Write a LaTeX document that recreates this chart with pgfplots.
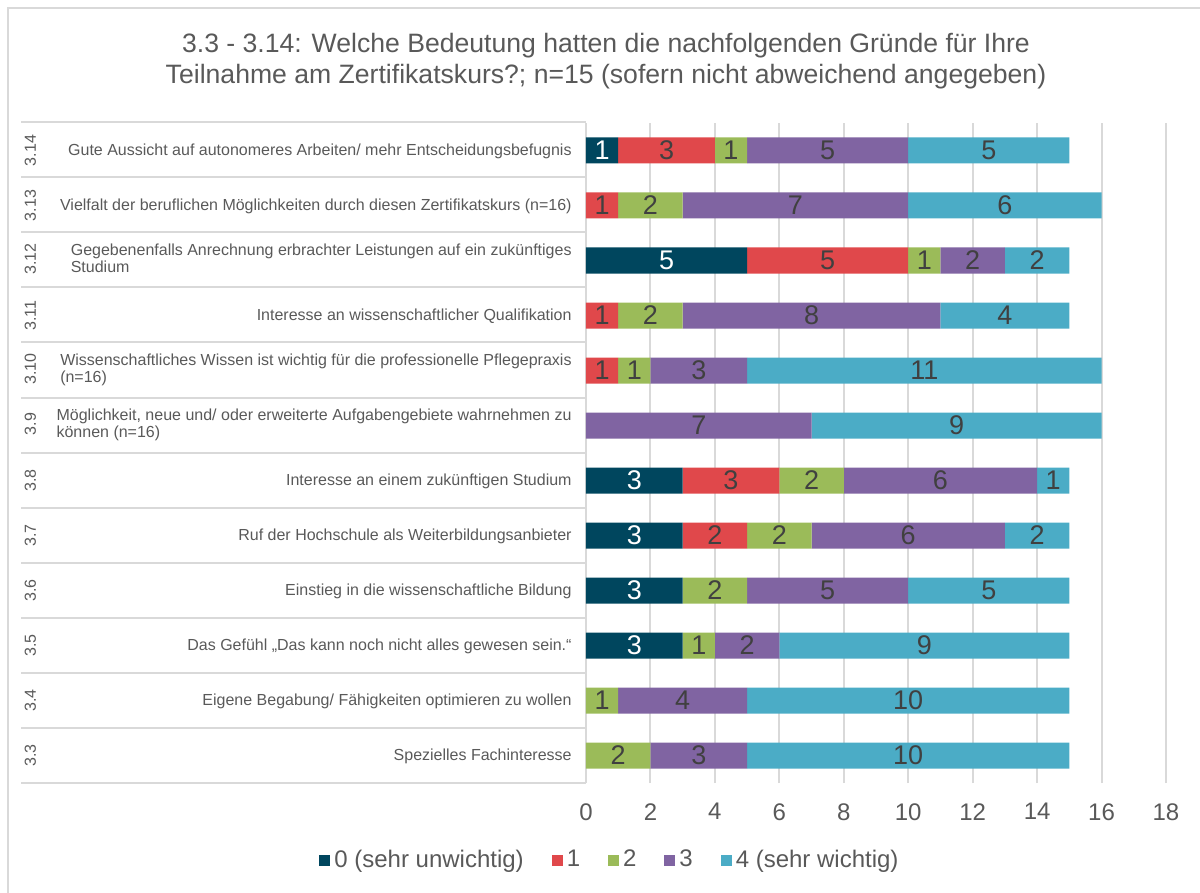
\documentclass[border=0pt]{standalone}
\usepackage{pgfplots}
\pgfplotsset{compat=1.18}
\usepackage{pgfplotstable}
\usepackage{graphicx}
\usepackage{fontspec}
\setmainfont{Liberation Sans}

\definecolor{c0}{HTML}{00465E}
\definecolor{c1}{HTML}{E0484B}
\definecolor{c2}{HTML}{9BBB59}
\definecolor{c3}{HTML}{8064A2}
\definecolor{c4}{HTML}{4BACC6}
\definecolor{txt}{HTML}{595959}
\definecolor{lbl}{HTML}{404040}
\definecolor{gridc}{HTML}{D9D9D9}

\pgfplotstableread{
y a b c d e
11 1 3 1 5 5
10 0 1 2 7 6
9 5 5 1 2 2
8 0 1 2 8 4
7 0 1 1 3 11
6 0 0 0 7 9
5 3 3 2 6 1
4 3 2 2 6 2
3 3 0 2 5 5
2 3 0 1 2 9
1 0 0 1 4 10
0 0 0 2 3 10
}\datatable

\newcommand{\lab}[2]{\makebox[273.5pt]{\rotatebox[origin=c]{90}{\fontsize{8}{9}\selectfont #1}\hfill\begin{tabular}{@{}l@{}}#2\end{tabular}}}

\begin{document}
\begin{tikzpicture}
\begin{scope}[x=0.5pt,y=-0.5pt]
\path[use as bounding box] (0,0) rectangle (1200,893);
\draw[gridc, line width=1pt] (7.5,893) -- (7.5,8.5) -- (1200,8.5);
\node[align=center, font=\fontsize{13.3}{15.5}\selectfont, text=txt] at (606,61) {3.3 - 3.14: Welche Bedeutung hatten die nachfolgenden Gründe für Ihre\\Teilnahme am Zertifikatskurs?; n=15 (sofern nicht abweichend angegeben)};
\foreach \i in {0,...,12} \draw[gridc, line width=1pt] (21,122.5+55*\i) -- (586,122.5+55*\i);
\end{scope}
\begin{axis}[
  at={(293pt,-391.5pt)}, anchor=south west,
  scale only axis, width=290pt, height=330pt,
  xmin=0, xmax=18, ymin=-0.5, ymax=11.5,
  xbar stacked, bar width=13pt,
  xtick={0,2,...,18}, ytick={0,...,11},
  yticklabels={
    {\lab{3.3}{Spezielles Fachinteresse}},
    {\lab{3.4}{Eigene Begabung/ Fähigkeiten optimieren zu wollen}},
    {\lab{3.5}{Das Gefühl „Das kann noch nicht alles gewesen sein.“}},
    {\lab{3.6}{Einstieg in die wissenschaftliche Bildung}},
    {\lab{3.7}{Ruf der Hochschule als Weiterbildungsanbieter}},
    {\lab{3.8}{Interesse an einem zukünftigen Studium\ }},
    {\lab{3.9}{Möglichkeit, neue und/ oder erweiterte Aufgabengebiete wahrnehmen zu\\können (n=16)}},
    {\lab{3.10}{Wissenschaftliches Wissen ist wichtig für die professionelle Pflegepraxis\\(n=16)}},
    {\lab{3.11}{Interesse an wissenschaftlicher Qualifikation}},
    {\lab{3.12}{Gegebenenfalls Anrechnung erbrachter Leistungen auf ein zukünftiges\\Studium}},
    {\lab{3.13}{Vielfalt der beruflichen Möglichkeiten durch diesen Zertifikatskurs (n=16)}},
    {\lab{3.14}{Gute Aussicht auf autonomeres Arbeiten/ mehr Entscheidungsbefugnis}}
  },
  xmajorgrids, grid style={gridc, line width=1pt},
  axis line style={draw=none},
  major tick length=0pt,
  tick label style={text=txt},
  xticklabel style={font=\fontsize{12}{14}\selectfont, inner sep=0pt, yshift=-10pt},
  yticklabel style={font=\fontsize{8}{8.6}\selectfont, inner sep=0pt, anchor=east, xshift=-7pt},
  /pgf/number format/assume math mode=true,
  clip=false,
  every axis plot/.append style={draw=none},
  nodes near coords={\pgfmathfloatifflags{\pgfplotspointmeta}{0}{}{\pgfmathprintnumber{\pgfplotspointmeta}}},
  point meta=explicit,
  every node near coord/.append style={anchor=center, inner sep=0pt, font=\fontsize{13.5}{13.5}\selectfont, text=lbl},
  legend style={at={(0.043,-0.1167)}, anchor=center, draw=none, fill=none, legend columns=5,
    font=\fontsize{12}{14}\selectfont, text=txt,
    /tikz/every even column/.append style={column sep=12pt},
    legend cell align=left},
  legend image code/.code={\fill[#1] (0pt,-2.75pt) rectangle (5.5pt,2.75pt);},
]
\addplot[fill=c0, every node near coord/.append style={text=white}] table[x=a, y=y, meta=a] {\datatable};
\addplot[fill=c1] table[x=b, y=y, meta=b] {\datatable};
\addplot[fill=c2] table[x=c, y=y, meta=c] {\datatable};
\addplot[fill=c3] table[x=d, y=y, meta=d] {\datatable};
\addplot[fill=c4] table[x=e, y=y, meta=e] {\datatable};
\legend{0 (sehr unwichtig),1,2,3,4 (sehr wichtig)}
\end{axis}
\end{tikzpicture}
\end{document}
